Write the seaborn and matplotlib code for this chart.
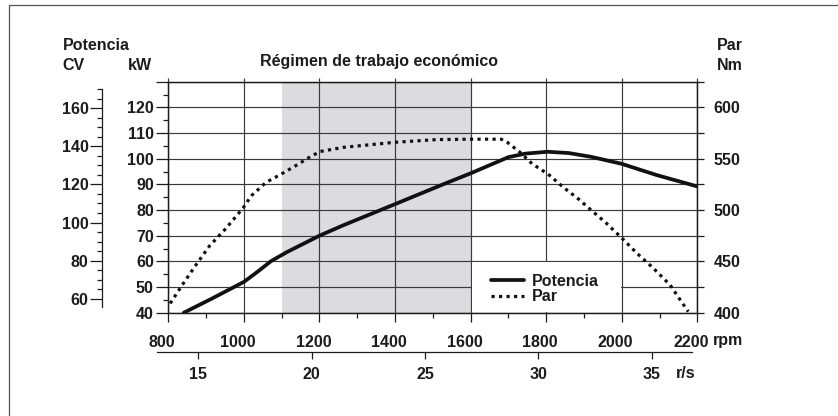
import matplotlib
matplotlib.use("Agg")
import matplotlib.pyplot as plt
import matplotlib.transforms as mtrans
from matplotlib.patches import Rectangle
from matplotlib.lines import Line2D
from matplotlib.ticker import FixedLocator
import seaborn as sns
import pandas as pd

# ---------------- data ----------------
rpm_potencia = [841, 918, 1000, 1033, 1072, 1115, 1200, 1262, 1400, 1532, 1600,
                1700, 1746, 1804, 1860, 1920, 2000, 2093, 2200]
kw_potencia = [40.0, 45.7, 52.0, 55.6, 60.1, 63.7, 70.0, 74.0, 82.3, 90.3, 94.3,
               100.6, 102.0, 102.7, 102.2, 100.7, 98.0, 93.6, 89.2]

rpm_par = [805, 838, 871, 909, 951, 998, 1020, 1059, 1094, 1141, 1176, 1202, 1262,
           1400, 1510, 1600, 1681, 1697, 1730, 1763, 1805, 1846, 1886, 1922, 1958,
           2000, 2040, 2083, 2128, 2176]
nm_par = [409, 427.6, 445.4, 465, 481.5, 502, 514, 527, 534, 544, 552, 557, 561,
          566, 568.6, 569, 569, 566, 556.5, 545, 535, 522, 510.6, 499, 487.6,
          472.8, 458, 443.6, 427, 401]

rpm_ticks = [800, 1000, 1200, 1400, 1600, 1800, 2000, 2200]
kw_ticks = [40, 50, 60, 70, 80, 90, 100, 110, 120]
cv_ticks = [60, 80, 100, 120, 140, 160]
nm_ticks = [400, 450, 500, 550, 600]
rs_ticks = [15, 20, 25, 30, 35]
econ_range = (1100, 1600)
legend_cell = (1600, 2000, 40, 60)

title = "Régimen de trabajo económico"
ink = "#1c1c1c"

# ---------------- style ----------------
sns.set_theme(style="ticks")
plt.rcParams['font.family'] = ['Liberation Sans', 'DejaVu Sans']
plt.rcParams['font.weight'] = 'bold'
plt.rcParams['text.color'] = ink
plt.rcParams['axes.edgecolor'] = ink
plt.rcParams['xtick.color'] = ink
plt.rcParams['ytick.color'] = ink
FS = 11.5

W, H = 838, 416
fig = plt.figure(figsize=(W / 100, H / 100), dpi=100)


def fx(px):
    return px / W


def fy(py):
    return 1 - py / H


L, R, T, B = 168.3, 697.3, 81.7, 312.7
ax = fig.add_axes([fx(L), fy(B), (R - L) / W, (B - T) / H])
ax.set_xlim(800, 2200)
ax.set_ylim(40, 130)
ax2 = ax.twinx()
ax2.set_ylim(400, 625)
ax3 = ax.twinx()
ax3.set_ylim(52.8, 173.8)

for a in (ax, ax2, ax3):
    for s in a.spines.values():
        s.set_linewidth(0.9)
        s.set_color(ink)

# shaded economic range
ax.axvspan(econ_range[0], econ_range[1], color="#dcdcdf", lw=0, zorder=0.5)

# grid
kw_grid = list(range(40, 131, 10))
ax.set_yticks(kw_grid, labels=[str(v) if v in kw_ticks else "" for v in kw_grid])
ax.yaxis.set_minor_locator(FixedLocator(list(range(45, 130, 10))))
ax.set_xticks(rpm_ticks, labels=[str(v) for v in rpm_ticks])
ax.xaxis.set_minor_locator(FixedLocator(list(range(900, 2200, 200))))
ax.grid(True, which="major", color="#3a3a3a", lw=0.85, zorder=1)
ax.set_axisbelow(True)

ax.tick_params(axis="y", which="major", length=8.4, width=0.9, pad=2, labelsize=FS, direction="out")
ax.tick_params(axis="y", which="minor", length=3.6, width=0.9, direction="out")
ax.tick_params(axis="x", which="major", length=6.5, width=0.9, pad=9.4, labelsize=FS, direction="out")
ax.tick_params(axis="x", which="minor", length=3.6, width=0.9, direction="out")
off = mtrans.ScaledTranslation(-6 / 100, 0, fig.dpi_scale_trans)
for lab in ax.get_xticklabels():
    lab.set_transform(lab.get_transform() + off)

# gridline stubs above the top edge
ax.vlines(rpm_ticks, 1, 1 + 3.7 / (B - T), colors="#3a3a3a", lw=0.85,
          transform=ax.get_xaxis_transform(), clip_on=False)

# white cell behind legend
dx = 2.6
dy = 0.4
ax.add_patch(Rectangle((legend_cell[0] + dx, legend_cell[2] + dy),
                       legend_cell[1] - legend_cell[0] - 2 * dx,
                       legend_cell[3] - legend_cell[2] - 2 * dy,
                       facecolor="white", edgecolor="none", zorder=1.5))

# right Nm axis
nm_all = list(range(400, 626, 25))
ax2.set_yticks(nm_all, labels=[str(v) if v in nm_ticks else "" for v in nm_all])
ax2.tick_params(axis="y", length=4.8, width=0.9, pad=6.7, labelsize=FS, direction="out")

# left CV axis (offset)
for side in ("right", "top", "bottom"):
    ax3.spines[side].set_visible(False)
ax3.spines["left"].set_visible(True)
ax3.spines["left"].set_position(("outward", 48))
ax3.spines["left"].set_bounds(56, 170)
ax3.yaxis.tick_left()
ax3.set_yticks(cv_ticks, labels=[str(v) for v in cv_ticks])
ax3.yaxis.set_minor_locator(FixedLocator([v for v in range(65, 171, 5) if v % 20]))
ax3.tick_params(axis="y", which="major", length=8.4, width=0.9, pad=1, labelsize=FS, direction="out")
ax3.tick_params(axis="y", which="minor", length=3.6, width=0.9, direction="out")

# curves
df_pot = pd.DataFrame({"rpm": rpm_potencia, "kW": kw_potencia})
df_par = pd.DataFrame({"rpm": rpm_par, "Nm": nm_par})
sns.lineplot(data=df_pot, x="rpm", y="kW", ax=ax, color="#111111", lw=2.7,
             zorder=5, legend=False, sort=False)
sns.lineplot(data=df_par, x="rpm", y="Nm", ax=ax2, color="#111111", lw=2.3,
             linestyle=(0, (1, 1.35)), zorder=5, legend=False, sort=False)
for a in (ax, ax2, ax3):
    a.set_xlabel("")
    a.set_ylabel("")
ax.set_xlim(800, 2200)

h_pot = ax.lines[-1]
h_par = ax2.lines[-1]
h_par.set_dash_capstyle("butt")
leg = ax3.legend([h_pot, h_par], ["Potencia", "Par"], loc="center left",
                 bbox_to_anchor=(fx(490.7), fy(289)), bbox_transform=fig.transFigure,
                 frameon=False, borderpad=0, borderaxespad=0, handlelength=2.1,
                 handletextpad=0.5, labelspacing=0.05, prop={"size": FS, "weight": "bold"})

# secondary r/s axis
ax4 = fig.add_axes([fx(160.5), fy(351.7), (R - L) / W, 0.0001])
ax4.set_xlim(800 / 60, 2200 / 60)
ax4.patch.set_visible(False)
ax4.yaxis.set_visible(False)
for side in ("right", "top", "left"):
    ax4.spines[side].set_visible(False)
ax4.spines["bottom"].set_bounds(13.17, 36.76)
ax4.spines["bottom"].set_linewidth(0.9)
ax4.set_xticks(rs_ticks, labels=[str(v) for v in rs_ticks])
ax4.tick_params(axis="x", length=4.8, width=0.9, pad=6.2, labelsize=FS, direction="out")

# texts
kw = dict(size=FS, weight="bold", va="center", ha="left")
fig.text(fx(62.7), fy(45), "Potencia", **kw)
fig.text(fx(62.7), fy(66), "CV", **kw)
fig.text(fx(128.3), fy(66), "kW", **kw)
fig.text(fx(716.7), fy(45), "Par", **kw)
fig.text(fx(716.7), fy(65), "Nm", **kw)
fig.text(fx(260), fy(61.7), title, **kw)
fig.text(fx(713.3), fy(340), "rpm", **kw)
fig.text(fx(676), fy(374), "r/s", **kw)

# outer frame (left and top edges)
fig.add_artist(Line2D([fx(9), fx(9)], [fy(5), -0.01], transform=fig.transFigure,
                      color="#555555", lw=0.9))
fig.add_artist(Line2D([fx(9), 1.01], [fy(5), fy(5)], transform=fig.transFigure,
                      color="#555555", lw=0.9))

fig.savefig("out.png", dpi=100)
